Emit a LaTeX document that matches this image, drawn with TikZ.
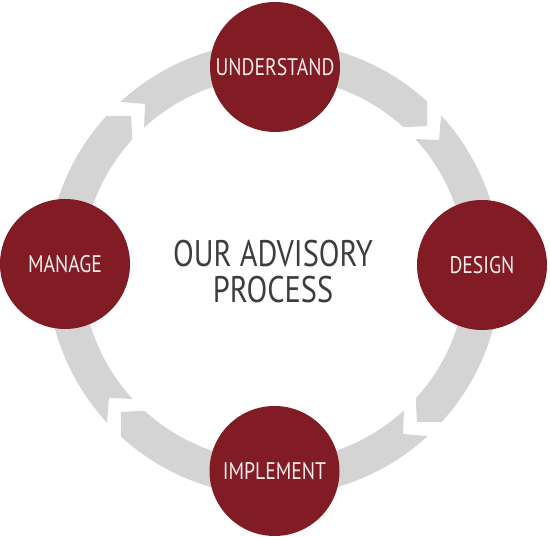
\documentclass[tikz,border=0pt]{standalone}
\usepackage{fontspec}
\setmainfont{PT Sans}[FakeStretch=0.82]
\definecolor{discred}{HTML}{821C24}
\definecolor{ringgray}{HTML}{D4D4D4}
\definecolor{titlegray}{HTML}{3B3E40}
\definecolor{labelwhite}{HTML}{F4ECEC}
\tikzset{
  stage/.style={circle, fill=discred, minimum size=130pt, inner sep=0pt,
    text=labelwhite, font=\fontsize{24}{28}\selectfont},
  ringpiece/.style={fill=ringgray},
}
\begin{document}
\begin{tikzpicture}[x=1pt,y=1pt]
\useasboundingbox (0,0) rectangle (550,537);
\def\rOut{227}\def\rIn{192}\def\rMid{209.5}\def\halfgap{2.5}\def\chevd{4.6}
\begin{scope}[shift={(274,268)}]
\foreach \g in {130.5,40.5,-49.5,-139.5} {
  \pgfmathsetmacro\tailw{\g-\halfgap+\chevd}
  \pgfmathsetmacro\tailn{\g-\halfgap}
  \pgfmathsetmacro\headw{\g-90+\halfgap+\chevd}
  \pgfmathsetmacro\headt{\g-90+\halfgap}
  \fill[ringpiece] (\tailw:\rOut pt) arc[start angle=\tailw, end angle=\headw, radius=\rOut pt]
    -- (\headt:\rMid pt) -- (\headw:\rIn pt)
    arc[start angle=\headw, end angle=\tailw, radius=\rIn pt]
    -- (\tailn:\rMid pt) -- cycle;
}
\end{scope}
\node[stage] (understand) at (275,470) {UNDERSTAND};
\node[stage] (design) at (482,272) {DESIGN};
\node[stage] (implement) at (274.5,66) {IMPLEMENT};
\node[stage] (manage) at (65,273) {MANAGE};
\node[align=center, text=titlegray, font=\fontsize{37}{36}\selectfont] (title) at (273,265) {OUR ADVISORY\\PROCESS};
\end{tikzpicture}
\end{document}
